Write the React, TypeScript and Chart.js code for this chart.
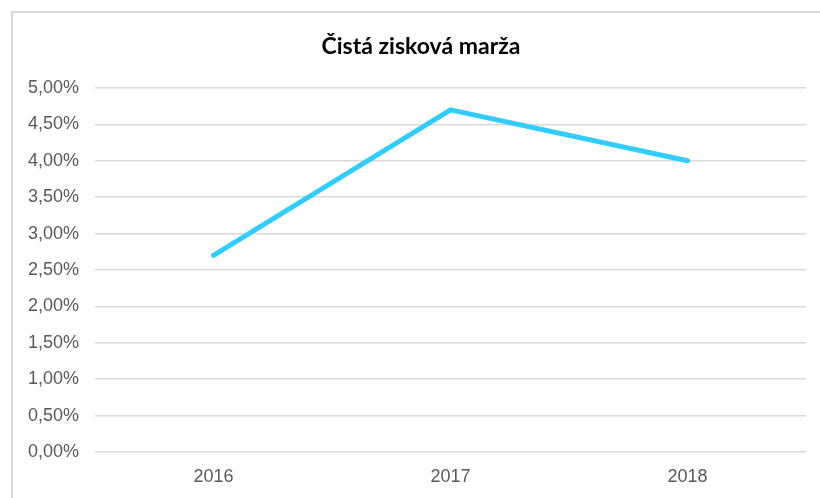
import React, { useEffect, useRef } from "react";
import { Chart, registerables } from "chart.js";

Chart.register(...registerables);

const categories = ["2016", "2017", "2018"];
const marginValues = [2.7, 4.7, 4.0];
const chartTitle = "Čistá zisková marža";

const titlePlugin = {
  id: "offsetTitle",
  afterDraw(chart: any) {
    const ctx = chart.ctx;
    ctx.save();
    ctx.font = "bold 23px Lato";
    ctx.fillStyle = "#000000";
    ctx.textAlign = "center";
    ctx.textBaseline = "alphabetic";
    ctx.fillText(chartTitle, 421, 54);
    ctx.restore();
  },
};

export default function App() {
  const canvasRef = useRef<HTMLCanvasElement | null>(null);

  useEffect(() => {
    const canvas = canvasRef.current;
    if (!canvas) return;
    const chart = new Chart(canvas, {
      type: "line",
      data: {
        labels: categories,
        datasets: [
          {
            data: marginValues,
            borderColor: "#33CCFF",
            backgroundColor: "#33CCFF",
            borderWidth: 5,
            borderCapStyle: "round",
            borderJoinStyle: "miter",
            pointRadius: 0,
            pointHoverRadius: 0,
            tension: 0,
            fill: false,
          },
        ],
      },
      plugins: [titlePlugin],
      options: {
        responsive: false,
        animation: false,
        layout: { padding: { top: 88, left: 0, right: 14, bottom: 0 } },
        plugins: {
          legend: { display: false },
          tooltip: { enabled: false },
          title: { display: false },
        },
        scales: {
          x: {
            offset: true,
            grid: { display: false, drawTicks: false },
            border: { display: false },
            ticks: {
              color: "#595959",
              font: { family: "Liberation Sans", size: 18 },
              padding: 14,
              maxRotation: 0,
            },
            afterFit: (scale: any) => {
              scale.height = 46;
            },
          },
          y: {
            min: 0,
            max: 5,
            grid: { color: "#d9d9d9", lineWidth: 1.5, drawTicks: false },
            border: { display: false },
            ticks: {
              stepSize: 0.5,
              color: "#595959",
              font: { family: "Liberation Sans", size: 18 },
              padding: 16,
              callback: (v: any) => Number(v).toFixed(2).replace(".", ",") + "%",
            },
            afterFit: (scale: any) => {
              scale.width = 95;
            },
          },
        },
      },
    });
    return () => chart.destroy();
  }, []);

  return (
    <div
      style={{
        position: "fixed",
        left: 0,
        top: 0,
        width: 820,
        height: 498,
        overflow: "hidden",
        background: "#ffffff",
      }}
    >
      <div
        style={{
          position: "absolute",
          left: 11,
          top: 11,
          width: 900,
          height: 600,
          border: "2px solid #d9d9d9",
        }}
      />
      <canvas
        ref={canvasRef}
        width={820}
        height={498}
        style={{ position: "absolute", left: 0, top: 0, width: 820, height: 498 }}
      />
    </div>
  );
}
